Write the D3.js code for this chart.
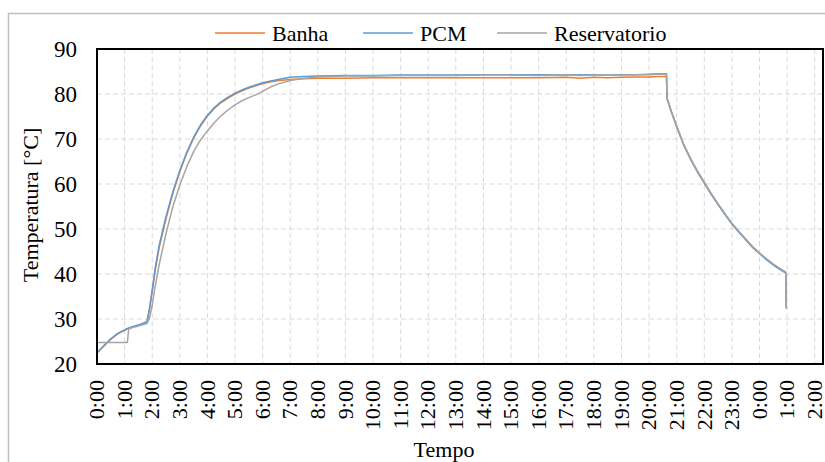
<!DOCTYPE html>
<html>
<head>
    <meta charset='utf-8'>
    <title> Temperatura x Tempo </title>
    <script src='https://d3js.org/d3.v7.min.js'></script>
    <style>
      body { margin: 0; background: #fff; }
      text { font-family: "Liberation Serif", "Times New Roman", serif; fill: #000; }
    </style>
</head>
<body>

<div id="container"></div>

<script>

const width = 825,
      height = 462,
      margin = {
          top: 49,
          bottom: 98,
          left: 97,
          right: 2,
      };

// horas desde o inicio do ensaio
const horas = [0, 0.25, 0.5, 0.75, 1.0, 1.1, 1.15, 1.4, 1.6, 1.81,
               1.9, 2.0, 2.1, 2.25, 2.5, 2.75, 3.0, 3.25, 3.5, 3.75,
               4.0, 4.25, 4.5, 4.75, 5.0, 5.25, 5.5, 5.75, 6.0, 6.3,
               6.6, 7.0, 7.5, 8.0, 9, 10, 11, 12, 13, 14,
               15, 16, 17, 17.5, 18, 18.5, 19, 19.5, 20, 20.3,
               20.63, 20.65, 20.8, 21, 21.25, 21.5, 21.75, 22, 22.25, 22.5,
               22.75, 23, 23.25, 23.5, 23.75, 24, 24.25, 24.5, 24.75, 24.95,
               24.97];

const banha = [22.5, 24.0, 25.5, 26.7, 27.5, 27.8, 27.9, 28.4, 28.8, 29.3,
               32.0, 36.0, 40.5, 45.8, 52.3, 58.0, 62.8, 66.8, 70.2, 72.9,
               75.1, 76.8, 78.1, 79.1, 80.0, 80.7, 81.3, 81.8, 82.3, 82.7,
               83.0, 83.2, 83.4, 83.5, 83.5, 83.6, 83.6, 83.6, 83.6, 83.6,
               83.6, 83.6, 83.7, 83.5, 83.7, 83.6, 83.7, 83.8, 83.8, 83.9,
               83.9, 79.0, 76.2, 72.8, 68.8, 65.6, 62.8, 60.3, 57.8, 55.5,
               53.3, 51.2, 49.4, 47.7, 46.0, 44.6, 43.3, 42.1, 41.1, 40.4,
               32.6];

const pcm = [22.4, 24.1, 25.6, 26.8, 27.6, 27.9, 28.0, 28.5, 28.9, 29.4,
             32.3, 36.5, 41.0, 46.3, 52.8, 58.3, 63.0, 67.0, 70.4, 73.1,
             75.3, 77.0, 78.3, 79.3, 80.2, 80.9, 81.5, 82.0, 82.5, 82.9,
             83.3, 83.7, 83.9, 84.0, 84.1, 84.1, 84.2, 84.2, 84.2, 84.3,
             84.3, 84.3, 84.2, 84.3, 84.3, 84.2, 84.3, 84.3, 84.4, 84.5,
             84.5, 79.0, 76.1, 72.7, 68.7, 65.5, 62.7, 60.2, 57.7, 55.4,
             53.2, 51.1, 49.3, 47.6, 45.9, 44.5, 43.2, 42.0, 41.0, 40.2,
             32.3];

const reservatorio = [24.8, 24.8, 24.8, 24.8, 24.8, 24.8, 27.8, 28.3, 28.6, 29.0,
                      30.2, 33.0, 37.0, 42.0, 49.0, 55.0, 59.8, 63.8, 67.2, 69.8,
                      71.8, 73.6, 75.2, 76.5, 77.6, 78.5, 79.2, 79.8, 80.6, 81.6,
                      82.3, 83.0, 83.5, 83.8, 84.0, 84.0, 84.1, 84.1, 84.1, 84.2,
                      84.2, 84.1, 84.2, 84.1, 84.2, 84.2, 84.2, 84.3, 84.3, 84.4,
                      84.4, 79.1, 76.2, 72.9, 68.9, 65.7, 62.9, 60.4, 57.9, 55.6,
                      53.4, 51.3, 49.5, 47.8, 46.1, 44.7, 43.4, 42.2, 41.2, 40.4,
                      32.5];

const series = [
  { name: "Banha", values: banha, color: "#ED7D31" },
  { name: "PCM", values: pcm, color: "#5B9BD5" },
  { name: "Reservatorio", values: reservatorio, color: "#A5A5A5" }
];

const yTicks = [20, 30, 40, 50, 60, 70, 80, 90];
const xTicks = d3.range(0, 27);   // uma marca por hora
const xMax = 26.3;

var svg = d3.select("#container")
  .append("svg")
  .attr("width", width)
  .attr("height", height)
  .style("display", "block");

// moldura externa do grafico
svg.append("rect")
  .attr("x", 8.5)
  .attr("y", 13.5)
  .attr("width", 830)
  .attr("height", 470)
  .attr("fill", "none")
  .attr("stroke", "#bfbfbf")
  .attr("stroke-width", 1.5);

var x = d3.scaleLinear()
  .domain([0, xMax])
  .range([margin.left, width - margin.right]);

var y = d3.scaleLinear()
  .domain([20, 90])
  .range([height - margin.bottom, margin.top]);

// grade tracejada
svg.append("g")
  .selectAll("line")
  .data(yTicks.slice(1, -1))
  .enter()
  .append("line")
  .attr("x1", margin.left)
  .attr("x2", width - margin.right)
  .attr("y1", d => y(d))
  .attr("y2", d => y(d))
  .attr("stroke", "#d9d9d9")
  .attr("stroke-width", 1)
  .attr("stroke-dasharray", "5,3");

svg.append("g")
  .selectAll("line")
  .data(xTicks.slice(1))
  .enter()
  .append("line")
  .attr("x1", d => x(d))
  .attr("x2", d => x(d))
  .attr("y1", margin.top)
  .attr("y2", height - margin.bottom)
  .attr("stroke", "#d9d9d9")
  .attr("stroke-width", 1)
  .attr("stroke-dasharray", "5,3");

// linhas das series
var line = d3.line()
  .x((d, i) => x(horas[i]))
  .y(d => y(d));

series.forEach(function(s) {
  svg.append("path")
    .datum(s.values)
    .attr("d", line)
    .attr("fill", "none")
    .attr("stroke", s.color)
    .attr("stroke-width", 1.5)
    .attr("stroke-linejoin", "round");
});

// borda da area do grafico
svg.append("rect")
  .attr("x", margin.left)
  .attr("y", margin.top)
  .attr("width", width - margin.right - margin.left)
  .attr("height", height - margin.bottom - margin.top)
  .attr("fill", "none")
  .attr("stroke", "#000")
  .attr("stroke-width", 2);

// eixo Y
var yAxis = svg.append("g")
  .attr("transform", `translate(${margin.left}, 0)`)
  .call(d3.axisLeft(y).tickValues(yTicks).tickSize(0).tickPadding(20));
yAxis.select(".domain").remove();
yAxis.selectAll("text")
  .style("font-size", "23px")
  .style("font-family", "Liberation Serif, Times New Roman, serif");

// eixo X (rotulos verticais)
var xAxis = svg.append("g")
  .attr("transform", `translate(0, ${height - margin.bottom})`)
  .call(d3.axisBottom(x).tickValues(xTicks).tickSize(0)
    .tickFormat(d => (d % 24) + ":00"));
xAxis.select(".domain").remove();
xAxis.selectAll("text")
  .attr("transform", "rotate(-90)")
  .attr("x", -16)
  .attr("y", -1)
  .attr("dy", "0.35em")
  .style("text-anchor", "end")
  .style("font-size", "22px")
  .style("font-family", "Liberation Serif, Times New Roman, serif");

// titulos dos eixos
svg.append("text")
  .attr("x", 444)
  .attr("y", 457)
  .attr("text-anchor", "middle")
  .style("font-size", "22px")
  .text("Tempo");

svg.append("text")
  .attr("transform", `translate(38, 205) rotate(-90)`)
  .attr("text-anchor", "middle")
  .style("font-size", "22px")
  .text("Temperatura [°C]");

// legenda
var legendX = [215, 363, 497];
series.forEach(function(s, i) {
  svg.append("line")
    .attr("x1", legendX[i])
    .attr("x2", legendX[i] + 50)
    .attr("y1", 33)
    .attr("y2", 33)
    .attr("stroke", s.color)
    .attr("stroke-width", 1.5);
  svg.append("text")
    .attr("x", legendX[i] + 57)
    .attr("y", 41)
    .style("font-size", "22px")
    .text(s.name);
});

</script>

</body>
</html>
